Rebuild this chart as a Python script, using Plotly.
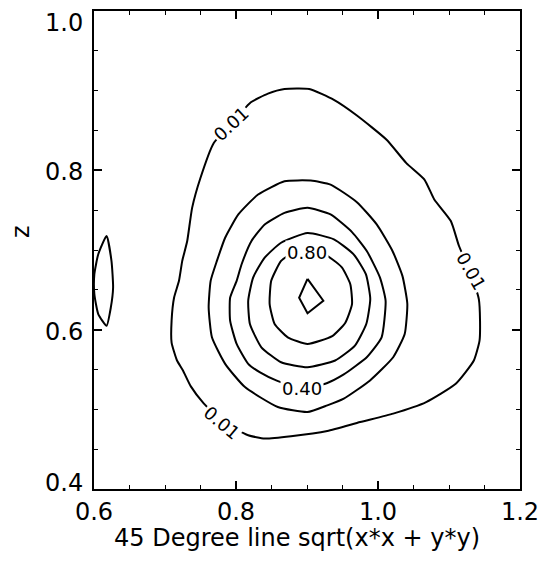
import plotly.graph_objects as go

# Contour levels of the density in the (45-degree radius, z) plane.
# Each level is a closed polyline; points listed in drawing order.
lvl_001_x = [0.7499, 0.7685, 0.7949, 0.8209, 0.8450, 0.8683, 0.9031, 0.9379, 0.9703, 1.0121,
             1.0399, 1.0654, 1.0793, 1.1026, 1.1141, 1.1290, 1.1420, 1.1437, 1.1430, 1.1350,
             1.1095, 1.0678, 1.0214, 0.9749, 0.9286, 0.8775, 0.8404, 0.8172, 0.7810, 0.7545,
             0.7364, 0.7253, 0.7169, 0.7093, 0.7093, 0.7128, 0.7197, 0.7243, 0.7313, 0.7382]
lvl_001_y = [0.7904, 0.8341, 0.8600, 0.8854, 0.8963, 0.9021, 0.9021, 0.8884, 0.8688, 0.8384,
             0.8091, 0.7884, 0.7634, 0.7363, 0.7050, 0.6738, 0.6384, 0.6113, 0.5863, 0.5613,
             0.5321, 0.5091, 0.4946, 0.4841, 0.4729, 0.4663, 0.4634, 0.4675, 0.4850, 0.5075,
             0.5288, 0.5488, 0.5613, 0.5838, 0.6113, 0.6404, 0.6613, 0.6863, 0.7113, 0.7529]

# small island of the 0.01 level against the left edge
lvl_001b_x = [0.6177, 0.6246, 0.6269, 0.6237, 0.6177, 0.6060, 0.6005, 0.6005, 0.6060]
lvl_001b_y = [0.7175, 0.6863, 0.6529, 0.6279, 0.6050, 0.6196, 0.6446, 0.6696, 0.6946]

lvl_020_x = [0.9053, 0.9332, 0.9703, 0.9982, 1.0204, 1.0344, 1.0413, 1.0376, 1.0214, 0.9888,
             0.9518, 0.9286, 0.9007, 0.8589, 0.8126, 0.7847, 0.7661, 0.7615, 0.7643, 0.7731,
             0.7847, 0.8033, 0.8311, 0.8683]
lvl_020_y = [0.7871, 0.7821, 0.7600, 0.7321, 0.6988, 0.6675, 0.6325, 0.5946, 0.5654, 0.5363,
             0.5134, 0.5050, 0.4966, 0.5029, 0.5279, 0.5571, 0.5904, 0.6279, 0.6613, 0.6863,
             0.7154, 0.7446, 0.7696, 0.7863]

lvl_040_x = [0.9007, 0.9332, 0.9634, 0.9842, 1.0028, 1.0107, 1.0051, 0.9842, 0.9675, 0.9518,
             0.9286, 0.8924, 0.8566, 0.8339, 0.8172, 0.8009, 0.7917, 0.7917, 0.8009, 0.8079,
             0.8218, 0.8404, 0.8683]
lvl_040_y = [0.7529, 0.7446, 0.7225, 0.6988, 0.6654, 0.6363, 0.5904, 0.5654, 0.5538, 0.5438,
             0.5331, 0.5263, 0.5363, 0.5463, 0.5571, 0.5821, 0.6113, 0.6400, 0.6613, 0.6821,
             0.7113, 0.7321, 0.7466]

lvl_060_x = [0.9007, 0.9379, 0.9657, 0.9829, 0.9891, 0.9836, 0.9675, 0.9397, 0.9007, 0.8635,
             0.8357, 0.8196, 0.8172, 0.8241, 0.8404, 0.8635]
lvl_060_y = [0.7213, 0.7134, 0.6946, 0.6696, 0.6388, 0.6075, 0.5800, 0.5613, 0.5529, 0.5591,
             0.5779, 0.6071, 0.6363, 0.6654, 0.6904, 0.7091]

lvl_080_x = [0.8993, 0.9174, 0.9355, 0.9494, 0.9610, 0.9634, 0.9540, 0.9355, 0.9007, 0.8729,
             0.8544, 0.8474, 0.8496, 0.8635, 0.8812]
lvl_080_y = [0.6994, 0.6981, 0.6884, 0.6779, 0.6571, 0.6321, 0.6088, 0.5919, 0.5821, 0.5904,
             0.6071, 0.6321, 0.6613, 0.6863, 0.6969]

lvl_100_x = [0.9007, 0.9230, 0.9007, 0.8889]
lvl_100_y = [0.6638, 0.6363, 0.6206, 0.6400]

# in-line contour labels
label_text = ["0.01", "0.01", "0.01", "0.80", "0.40"]
label_x = [0.7935, 1.1304, 0.7796, 0.8993, 0.8924]
label_y = [0.8588, 0.6738, 0.4838, 0.6969, 0.5256]
label_angle = [-43, 60, 40, 0, 0]

x_ticks = [0.6, 0.8, 1.0, 1.2]
x_tick_text = ["0.6", "0.8", "1.0", "1.2"]
y_ticks = [0.4, 0.6, 0.8, 1.0]
y_tick_text = ["0.4", "0.6", "0.8", "1.0"]
# end labels of the z axis sit inside the frame (pixel offsets)
y_tick_shift = [6, -2, -2, -12]

FONT = "DejaVu Sans"
TICK_SIZE = 24

fig = go.Figure()

rings = [
    (lvl_001_x, lvl_001_y, "spline"),
    (lvl_001b_x, lvl_001b_y, "spline"),
    (lvl_020_x, lvl_020_y, "spline"),
    (lvl_040_x, lvl_040_y, "spline"),
    (lvl_060_x, lvl_060_y, "spline"),
    (lvl_080_x, lvl_080_y, "spline"),
    (lvl_100_x, lvl_100_y, "linear"),
]
for xs, ys, shape in rings:
    fig.add_trace(go.Scatter(
        x=xs + xs[:1], y=ys + ys[:1], mode="lines",
        line=dict(color="black", width=2, shape=shape, smoothing=0.5),
        hoverinfo="skip", showlegend=False,
    ))

for t, lx, ly, ang in zip(label_text, label_x, label_y, label_angle):
    fig.add_annotation(
        x=lx, y=ly, xref="x", yref="y", text=t, showarrow=False,
        textangle=ang, bgcolor="white", borderpad=1,
        font=dict(family=FONT, size=18, color="black"),
    )

# z-axis tick labels, placed on the y scale
for val, txt, sh in zip(y_ticks, y_tick_text, y_tick_shift):
    fig.add_annotation(
        x=0, y=val, xref="paper", yref="y", text=txt, showarrow=False,
        xanchor="right", yanchor="middle", xshift=-9, yshift=sh,
        font=dict(family=FONT, size=TICK_SIZE, color="black"),
    )

# vertical axis title
fig.add_annotation(
    x=(20 - 94) / 431, y=(489 - 230) / 480, xref="paper", yref="paper",
    text="z", showarrow=False, xanchor="center", yanchor="middle",
    textangle=-90, font=dict(family=FONT, size=TICK_SIZE, color="black"),
)

# horizontal axis title
fig.add_annotation(
    x=(299 - 94) / 431, y=(489 - 538) / 480, xref="paper", yref="paper",
    text="45 Degree line sqrt(x*x + y*y)", showarrow=False,
    xanchor="center", yanchor="middle",
    font=dict(family=FONT, size=TICK_SIZE, color="black"),
)

axis_common = dict(
    showgrid=False, zeroline=False, showline=True, linecolor="black", linewidth=2,
    mirror="ticks", ticks="inside", ticklen=8, tickwidth=1.5, tickcolor="black",
    minor=dict(ticks="inside", ticklen=4, tickwidth=1.2, tickcolor="black", dtick=0.05,
               showgrid=False),
    tickfont=dict(family=FONT, size=TICK_SIZE, color="black"),
)

fig.update_layout(
    width=548, height=569,
    margin=dict(l=94, r=23, t=9, b=80),
    paper_bgcolor="white", plot_bgcolor="white",
    xaxis=dict(range=[0.6, 1.2], tickvals=x_ticks, ticktext=x_tick_text, **axis_common),
    yaxis=dict(range=[0.4, 1.0], tickvals=y_ticks, showticklabels=False, **axis_common),
)

fig.write_html("out.html")
